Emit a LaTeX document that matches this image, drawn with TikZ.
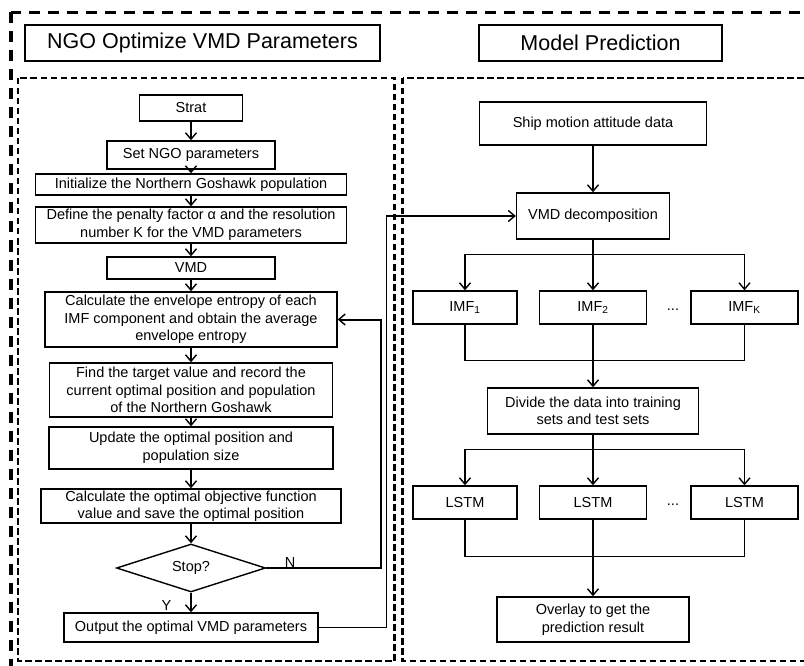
\documentclass[tikz,border=0pt]{standalone}
\usepackage{fontspec}
\setmainfont{Liberation Sans}
\usetikzlibrary{shapes.geometric,arrows.meta}

\begin{document}
\begin{tikzpicture}[x=1pt,y=-1pt]
\tikzset{
    vmdBox/.style={rectangle,draw=black,line width=1.4pt,align=center,inner sep=0pt,font=\fontsize{14.5}{17.5}\selectfont},
    vmdTitle/.style={rectangle,draw=black,line width=1.4pt,align=center,inner sep=0pt,minimum height=36pt,font=\fontsize{21.5}{26}\selectfont},
    vmdStop/.style={diamond,draw=black,line width=1.4pt,inner sep=0pt,aspect=3,minimum width=149pt,minimum height=48pt,font=\fontsize{14.5}{17.5}\selectfont},
    vmdText/.style={inner sep=0pt,font=\fontsize{14.5}{17.5}\selectfont},
    vmdArrow/.style={line width=1.4pt,-{Straight Barb[length=6.5pt,width=11pt,line width=1.4pt]}},
    vmdFrame/.style={line width=3.2pt,dash pattern=on 11pt off 8pt},
    vmdPanel/.style={line width=2.6pt,dash pattern=on 6.5pt off 3.5pt},
}
\useasboundingbox (0,0) rectangle (804,666);
\clip (0,0) rectangle (804,666);

% frames
\draw[vmdFrame] (11,12.5) rectangle (830,690);
\draw[vmdPanel] (18,78) rectangle (394.5,661);
\draw[vmdPanel] (402.5,78) rectangle (830,661);

\node[vmdTitle,minimum width=355pt] (ngoTitle) at (202.5,43) {NGO Optimize VMD Parameters};
\node[vmdTitle,minimum width=243pt] (predTitle) at (600.5,43) {Model Prediction};

% NGO flow
\node[vmdBox,minimum width=103pt,minimum height=26pt] (strat) at (191,108) {Strat};
\node[vmdBox,minimum width=168pt,minimum height=28pt] (setNgo) at (191,155) {Set NGO parameters};
\node[vmdBox,minimum width=311pt,minimum height=21pt] (initPop) at (191,184.5) {Initialize the Northern Goshawk population};
\node[vmdBox,minimum width=311pt,minimum height=36pt] (defPar) at (191,225) {Define the penalty factor α and the resolution\\number K for the VMD parameters};
\node[vmdBox,minimum width=168pt,minimum height=22pt] (vmd) at (191,268) {VMD};
\node[vmdBox,minimum width=292pt,minimum height=55pt] (calcEnv) at (191,319.5) {Calculate the envelope entropy of each\\IMF component and obtain the average\\envelope entropy};
\node[vmdBox,minimum width=283pt,minimum height=54pt] (findTarget) at (191,390) {Find the target value and record the\\current optimal position and population\\of the Northern Goshawk};
\node[vmdBox,minimum width=284pt,minimum height=42pt] (updPos) at (191,448) {Update the optimal position and\\population size};
\node[vmdBox,minimum width=300pt,minimum height=34pt] (calcObj) at (191,506) {Calculate the optimal objective function\\value and save the optimal position};
\node[vmdStop] (stop) at (191,568) {Stop?};
\node[vmdBox,minimum width=254pt,minimum height=29pt] (outPar) at (191,627.5) {Output the optimal VMD parameters};
\node[vmdText] (yesLab) at (166.5,605.5) {Y};
\node[vmdText,anchor=base] (noLab) at (290,567) {N};

\draw[vmdArrow] (strat) -- (setNgo);
\draw[vmdArrow] (setNgo) -- (initPop);
\draw[vmdArrow] (initPop) -- (defPar);
\draw[vmdArrow] (defPar) -- (vmd);
\draw[vmdArrow] (vmd) -- (calcEnv);
\draw[vmdArrow] (calcEnv) -- (findTarget);
\draw[vmdArrow] (findTarget) -- (updPos);
\draw[vmdArrow] (updPos) -- (calcObj);
\draw[vmdArrow] (calcObj) -- (stop);
\draw[vmdArrow] (stop) -- (outPar);
\draw[vmdArrow,line width=2pt] (stop.east) -- ++(115,0) |- (calcEnv.east);

% prediction flow
\node[vmdBox,minimum width=227pt,minimum height=43pt] (ship) at (593,123.5) {Ship motion attitude data};
\node[vmdBox,minimum width=153pt,minimum height=46pt] (vmdDec) at (593,216) {VMD decomposition};
\node[vmdBox,minimum width=104pt,minimum height=33pt] (imf1) at (465,307.5) {IMF\textsubscript{1}};
\node[vmdBox,minimum width=107pt,minimum height=33pt] (imf2) at (593,307.5) {IMF\textsubscript{2}};
\node[vmdBox,minimum width=107pt,minimum height=33pt] (imfK) at (744.5,307.5) {IMF\textsubscript{K}};
\node[vmdText] (dotsImf) at (673,310) {...};
\node[vmdBox,minimum width=211pt,minimum height=46pt] (divide) at (593,411) {Divide the data into training\\sets and test sets};
\node[vmdBox,minimum width=104pt,minimum height=33pt] (lstm1) at (465,502.5) {LSTM};
\node[vmdBox,minimum width=107pt,minimum height=33pt] (lstm2) at (593,502.5) {LSTM};
\node[vmdBox,minimum width=107pt,minimum height=33pt] (lstmK) at (744.5,502.5) {LSTM};
\node[vmdText] (dotsLstm) at (673,505) {...};
\node[vmdBox,minimum width=192pt,minimum height=45pt] (overlay) at (593,619.5) {Overlay to get the\\prediction result};

\draw[vmdArrow] (outPar.east) -- ++(68,0) |- (vmdDec.west);
\draw[vmdArrow] (ship) -- (vmdDec);
\draw[vmdArrow] (vmdDec.south) -- ++(0,15) -| (imf1.north);
\draw[vmdArrow] (vmdDec.south) -- ++(0,15) -| (imfK.north);
\draw[vmdArrow] (vmdDec) -- (imf2);
\draw[line width=1.4pt] (imf1.south) -- ++(0,35.5) -| (imfK.south);
\draw[vmdArrow] (imf2) -- (divide);
\draw[vmdArrow] (divide.south) -- ++(0,15) -| (lstm1.north);
\draw[vmdArrow] (divide.south) -- ++(0,15) -| (lstmK.north);
\draw[vmdArrow] (divide) -- (lstm2);
\draw[line width=1.4pt] (lstm1.south) -- ++(0,37) -| (lstmK.south);
\draw[vmdArrow] (lstm2) -- (overlay);
\end{tikzpicture}
\end{document}
